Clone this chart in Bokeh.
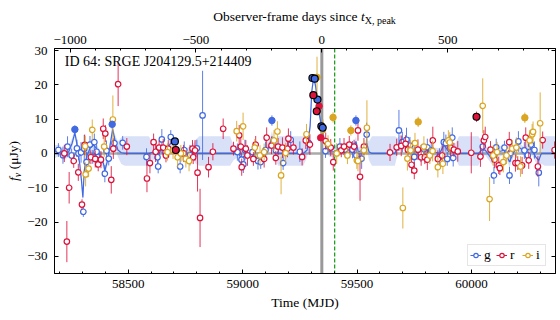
from bokeh.plotting import figure
from bokeh.layouts import column, row
from bokeh.models import (Range1d, LinearAxis, SingleIntervalTicker, FixedTicker, ColumnDataSource,
                          Label, Legend, LegendItem, Span, CustomJSTickFormatter, Div)
from bokeh.embed import file_html
from bokeh.resources import INLINE

# ---------------- data ----------------
T_PEAK = 59346.0        # MJD of X-ray peak (top axis zero, grey line)
T_MARK = 59402.0        # green dashed line
DAY_SCALE = 1.10        # MJD per top-axis day
X_RANGE = (58178, 60367)
Y_RANGE = (-35.0, 30.6)
Y_TICKS = [-30, -20, -10, 0, 10, 20, 30]
TITLE = "ID 64: SRGE J204129.5+214409"
X_LABEL = "Time (MJD)"
TOP_LABEL = ("Observer-frame days since ", "t", "X, peak")
Y_LABEL = ("f", "\u03bd", " (\u03bcJy)")

# (MJD, flux, err, kind)  kind: 0 open, 1 filled, 2 filled with black edge
g_points = [
    (58195, 1.0, 2.0, 0), (58215, -0.5, 2.5, 0), (58235, 2.0, 3.0, 0), (58253, -0.6, 2.0, 0),
    (58267, 7.0, 1.2, 1), (58276, 1.5, 2.5, 0), (58283, 0.0, 2.0, 0), (58294, 0.3, 3.0, 0),
    (58304, -17.0, 1.5, 0), (58308, 1.4, 4.0, 0), (58318, -2.5, 3.0, 0), (58333, 2.6, 2.5, 0),
    (58345, -1.0, 2.0, 0), (58352, 3.3, 2.5, 0), (58362, 0.5, 3.0, 0), (58375, -2.0, 2.0, 0),
    (58398, -5.9, 2.5, 0), (58405, 0.8, 3.0, 0), (58415, -1.5, 2.0, 0), (58430, 8.5, 1.5, 1),
    (58440, 3.0, 2.0, 0), (58476, 3.1, 2.0, 0), (58580, -1.0, 2.5, 0), (58628, -1.1, 2.5, 0),
    (58631, -3.8, 2.0, 0), (58647, 4.1, 3.0, 0), (58660, 0.5, 2.0, 0), (58686, 4.8, 2.0, 0),
    (58704, 3.5, 1.0, 2), (58727, -3.8, 2.0, 0), (58745, 1.0, 2.5, 0), (58770, -0.5, 3.0, 0),
    (58800, 1.5, 2.5, 0), (58825, 11.1, 13.0, 0), (58977, 0.4, 2.5, 0), (58995, -1.8, 2.0, 0),
    (59003, -3.2, 2.5, 0), (59010, 1.0, 3.0, 0), (59043, 0.4, 2.0, 0), (59067, -2.2, 2.5, 0),
    (59079, -2.5, 2.0, 0), (59100, 1.0, 2.5, 0), (59128, 9.6, 1.5, 1), (59145, 0.9, 2.5, 0),
    (59177, -2.8, 2.0, 0), (59210, 4.0, 2.5, 0), (59250, 0.5, 3.0, 0), (59290, 3.0, 3.0, 0),
    (59305, 22.0, 1.0, 2), (59315, 21.8, 1.0, 2), (59327, 15.7, 1.0, 2), (59344, 7.9, 1.0, 2),
    (59350, 7.5, 1.0, 2), (59362, 0.7, 2.0, 0), (59425, 2.0, 2.5, 0), (59447, 1.1, 2.0, 0),
    (59480, 1.1, 2.5, 0), (59495, 9.6, 1.5, 1), (59497, -0.6, 2.5, 0), (59520, -1.5, 3.0, 0),
    (59542, 5.5, 3.5, 0), (59683, 6.7, 6.0, 0), (59698, 3.3, 3.0, 0), (59716, 4.0, 3.5, 0),
    (59731, 2.3, 2.5, 0), (59750, -1.0, 3.0, 0), (59779, 0.0, 2.5, 0), (59807, 1.8, 2.5, 0),
    (59824, 0.9, 2.0, 0), (59860, -1.0, 2.5, 0), (59879, 3.3, 3.0, 0), (59888, 3.0, 2.5, 0),
    (59894, -1.6, 2.0, 0), (59916, 4.6, 3.0, 0), (59920, -1.3, 2.5, 0), (60049, 2.0, 3.0, 0),
    (60098, -6.4, 2.5, 0), (60108, 1.8, 2.5, 0), (60144, 1.7, 2.0, 0), (60166, -6.4, 2.5, 0),
    (60170, 0.1, 2.5, 0), (60205, 3.5, 3.0, 0), (60231, 0.9, 2.5, 0), (60246, -0.6, 2.0, 0),
    (60260, 2.6, 2.5, 0), (60275, 1.0, 2.5, 0), (60294, -5.6, 4.0, 0),
]

r_points = [
    (58221, 0.0, 2.5, 0), (58232, -25.7, 6.0, 0), (58242, -10.0, 4.6, 0), (58262, -2.2, 2.0, 0),
    (58282, -5.5, 2.5, 0), (58298, -14.9, 1.5, 0), (58310, 2.5, 3.0, 0), (58337, -1.1, 2.0, 0),
    (58356, -1.6, 2.5, 0), (58369, -3.2, 2.0, 0), (58381, -1.8, 2.5, 0), (58391, 7.2, 3.0, 0),
    (58400, 5.8, 2.5, 0), (58426, -7.7, 4.0, 0), (58435, 1.4, 3.0, 0), (58456, 20.2, 6.4, 0),
    (58494, 2.0, 2.5, 0), (58582, -7.3, 4.0, 0), (58595, -2.8, 3.0, 0), (58611, 3.3, 2.5, 0),
    (58620, 0.5, 3.0, 0), (58635, 1.7, 2.0, 0), (58653, 1.7, 2.5, 0), (58665, -0.6, 2.0, 0),
    (58675, 1.4, 2.5, 0), (58708, 1.0, 1.0, 2), (58742, 0.0, 2.5, 0), (58781, 1.4, 2.5, 0),
    (58784, -1.1, 2.0, 0), (58792, 0.9, 3.0, 0), (58803, -5.6, 5.5, 0), (58814, -18.8, 8.5, 0),
    (58851, -4.0, 3.0, 0), (58870, 0.5, 2.5, 0), (58915, 7.2, 3.0, 0), (58960, 1.4, 2.0, 0),
    (58985, 5.3, 3.0, 0), (58992, 2.0, 2.5, 0), (58996, -4.0, 2.5, 0), (59014, 1.4, 2.5, 0),
    (59021, -0.6, 3.0, 0), (59047, -1.6, 2.0, 0), (59057, 2.6, 2.5, 0), (59094, -1.6, 2.5, 0),
    (59105, 4.6, 3.0, 0), (59126, 2.3, 2.5, 0), (59145, -1.3, 2.0, 0), (59155, 2.0, 2.5, 0),
    (59174, 1.7, 3.0, 0), (59196, 1.4, 2.5, 0), (59200, 4.3, 3.0, 0), (59222, 1.7, 2.0, 0),
    (59260, -1.0, 2.5, 0), (59276, 3.8, 2.5, 0), (59294, 2.6, 3.0, 0), (59309, 17.0, 1.0, 2),
    (59324, 12.3, 1.0, 2), (59334, 13.8, 1.0, 1), (59341, 4.6, 1.0, 1), (59363, 3.6, 2.5, 0),
    (59385, 1.7, 2.5, 0), (59396, -2.5, 2.5, 0), (59431, 0.9, 2.0, 0), (59443, 2.0, 2.5, 0),
    (59466, 2.6, 2.5, 0), (59487, 2.0, 2.0, 0), (59504, 6.7, 3.0, 0), (59513, -6.8, 7.0, 0),
    (59530, 2.0, 2.5, 0), (59644, 0.3, 2.5, 0), (59673, 1.8, 2.5, 0), (59693, 2.2, 3.0, 0),
    (59712, 2.8, 2.5, 0), (59722, 1.1, 2.0, 0), (59738, -3.3, 2.5, 0), (59750, -5.0, 2.5, 0),
    (59766, 1.1, 3.0, 0), (59780, -1.1, 2.5, 0), (59796, -1.1, 2.0, 0), (59807, -1.8, 3.0, 0),
    (59831, 3.8, 4.0, 0), (59853, -1.6, 2.5, 0), (59872, -0.6, 3.0, 0), (59908, 1.7, 2.5, 0),
    (59923, 1.1, 2.0, 0), (59940, 0.6, 3.0, 0), (59999, 0.2, 6.0, 0), (60022, 10.7, 1.5, 2),
    (60039, -0.9, 3.0, 0), (60054, 3.8, 3.0, 0), (60060, 4.8, 3.0, 0), (60083, 1.1, 2.5, 0),
    (60101, -1.8, 2.5, 0), (60119, -3.5, 2.5, 0), (60124, -4.3, 2.0, 0), (60165, 3.3, 3.0, 0),
    (60192, -2.8, 2.5, 0), (60202, -2.8, 2.0, 0), (60221, -3.5, 2.5, 0), (60237, 4.6, 3.0, 0),
    (60250, -2.0, 2.5, 0), (60290, -3.8, 3.0, 0), (60311, 3.9, 2.5, 0), (60363, 1.0, 2.5, 0),
]

i_points = [
    (58312, 2.1, 3.0, 0), (58314, -6.1, 3.5, 0), (58327, -4.4, 2.5, 0), (58343, 6.9, 3.0, 0),
    (58395, 2.0, 3.0, 0), (58433, 9.9, 7.0, 0), (58672, 0.4, 2.5, 0), (58696, 0.9, 2.5, 0),
    (58716, -1.1, 3.0, 0), (58730, 0.0, 2.5, 0), (58752, -1.6, 2.5, 0), (58766, -2.2, 3.0, 0),
    (58974, 6.5, 3.0, 0), (59002, 7.9, 4.0, 0), (59053, 1.7, 2.5, 0), (59076, -0.6, 3.0, 0),
    (59094, 0.4, 2.5, 0), (59137, 3.8, 3.0, 0), (59152, 6.4, 3.0, 0), (59168, -6.4, 5.5, 0),
    (59188, 0.1, 3.0, 0), (59279, 5.6, 3.0, 0), (59325, 22.2, 6.0, 1), (59351, 6.9, 3.0, 0),
    (59373, 2.8, 2.5, 0), (59395, 10.5, 1.5, 1), (59411, 0.0, 3.0, 0), (59458, -0.6, 2.5, 0),
    (59473, 6.7, 1.5, 1), (59499, -2.0, 2.5, 0), (59504, -2.2, 3.0, 0), (59530, 0.9, 3.0, 0),
    (59543, 7.5, 8.0, 0), (59700, -15.9, 6.0, 0), (59720, -1.5, 3.5, 0), (59734, 0.9, 3.0, 0),
    (59753, 3.0, 3.0, 0), (59767, 9.2, 1.5, 1), (59792, 2.0, 3.0, 0), (59818, -0.6, 2.5, 0),
    (59830, 0.7, 3.0, 0), (59853, -4.0, 3.0, 0), (59875, -3.0, 3.0, 0), (59899, 3.8, 3.0, 0),
    (59905, 3.2, 3.0, 0), (60049, 13.9, 8.0, 0), (60079, -13.3, 6.4, 0), (60095, -0.6, 3.0, 0),
    (60112, 0.4, 3.0, 0), (60139, -2.5, 3.0, 0), (60153, -0.6, 2.5, 0), (60178, 1.4, 2.5, 0),
    (60196, 1.7, 3.0, 0), (60214, -3.8, 3.0, 0), (60233, 10.4, 1.5, 1), (60254, 3.8, 3.0, 0),
    (60265, 5.6, 3.0, 0), (60269, 6.3, 3.0, 0), (60300, 8.8, 9.0, 0),
]

# Gaussian-process model of the g band: (MJD, mean, upper width, lower width)
gp_knots = [
    (58178, 0.5, 2.0, 2.0), (58200, 1.0, 1.5, 1.5), (58220, -0.5, 1.5, 1.5), (58240, 0.5, 1.5, 1.5),
    (58255, 3.0, 1.5, 1.5), (58267, 6.0, 1.2, 1.2), (58278, 2.0, 1.5, 1.5), (58288, -3.0, 1.5, 1.5),
    (58296, -8.0, 2.0, 2.0), (58302, -12.8, 2.0, 2.0), (58308, -5.0, 1.5, 1.5), (58318, -1.0, 1.5, 1.5),
    (58333, 1.5, 1.2, 1.2), (58350, 2.5, 1.2, 1.2), (58365, 1.0, 1.2, 1.2), (58380, -1.0, 1.5, 1.5),
    (58392, -3.0, 1.5, 1.5), (58398, -5.0, 1.5, 1.5), (58410, -2.0, 1.5, 1.5), (58420, 2.0, 1.5, 1.5),
    (58432, 7.0, 1.3, 1.3), (58442, 4.0, 1.5, 1.5), (58455, 1.0, 2.5, 2.0), (58470, 0.2, 4.5, 3.3),
    (58485, 0.0, 5.0, 3.6), (58590, 0.0, 5.0, 3.6), (58605, 0.3, 3.0, 2.5), (58620, 0.0, 1.5, 1.3),
    (58630, -0.5, 1.3, 1.3), (58648, 1.5, 1.3, 1.3), (58665, 1.0, 1.3, 1.3), (58686, 3.0, 1.2, 1.2),
    (58704, 3.0, 1.0, 1.0), (58720, 0.0, 1.3, 1.3), (58735, -1.0, 1.3, 1.3), (58755, 0.0, 1.5, 1.5),
    (58780, 0.5, 2.0, 2.0), (58795, 0.0, 4.0, 3.0), (58810, 0.0, 5.0, 3.6), (58945, 0.0, 5.0, 3.6),
    (58960, 0.0, 2.5, 2.0), (58980, 0.3, 1.3, 1.3), (58995, -1.5, 1.3, 1.3), (59020, 0.0, 1.3, 1.3),
    (59045, 0.0, 1.3, 1.3), (59070, -2.0, 1.3, 1.3), (59085, -1.0, 1.5, 1.5), (59105, 0.5, 1.5, 1.5),
    (59120, 3.0, 1.5, 1.5), (59128, 5.0, 1.5, 1.5), (59140, 1.0, 2.5, 2.0), (59155, 0.0, 5.0, 3.6),
    (59265, 0.0, 5.0, 3.6), (59282, 1.0, 2.5, 2.0), (59295, 8.0, 2.0, 2.0), (59302, 18.0, 1.5, 1.5),
    (59310, 22.0, 1.2, 1.2), (59318, 20.0, 1.2, 1.2), (59327, 15.5, 1.2, 1.2), (59336, 11.0, 1.3, 1.3),
    (59345, 8.0, 1.2, 1.2), (59355, 4.5, 1.3, 1.3), (59365, 1.5, 1.3, 1.3), (59380, 0.5, 1.5, 1.5),
    (59400, 0.5, 1.5, 1.5), (59425, 1.5, 1.3, 1.3), (59447, 1.0, 1.3, 1.3), (59480, 1.0, 1.3, 1.3),
    (59495, 3.5, 1.3, 1.3), (59505, 0.5, 1.3, 1.3), (59530, 1.0, 1.5, 1.5), (59542, 3.0, 1.5, 1.5),
    (59552, 0.5, 3.0, 2.5), (59565, 0.0, 5.0, 3.6), (59665, 0.0, 5.0, 3.6), (59678, 2.0, 2.5, 2.0),
    (59690, 4.0, 1.5, 1.5), (59705, 3.0, 1.5, 1.5), (59720, 2.5, 1.3, 1.3), (59740, 0.5, 1.3, 1.3),
    (59760, 0.5, 1.3, 1.3), (59780, 0.0, 1.3, 1.3), (59810, 1.0, 1.3, 1.3), (59830, 0.5, 1.3, 1.3),
    (59860, 0.0, 1.5, 1.5), (59880, 2.5, 1.3, 1.3), (59900, 0.5, 1.3, 1.3), (59916, 1.5, 1.5, 1.5),
    (59930, 0.5, 2.5, 2.0), (59945, 0.0, 5.0, 3.6), (60030, 0.0, 5.0, 3.6), (60045, 1.0, 2.5, 2.0),
    (60060, 1.0, 1.5, 1.5), (60098, -2.5, 1.5, 1.5), (60120, 0.5, 1.5, 1.5), (60144, 1.0, 1.3, 1.3),
    (60166, -2.5, 1.5, 1.5), (60185, 0.5, 1.3, 1.3), (60205, 2.0, 1.3, 1.3), (60231, 0.5, 1.3, 1.3),
    (60260, 1.5, 1.3, 1.3), (60280, -1.0, 1.5, 1.5), (60294, -2.0, 2.0, 2.0), (60305, 0.0, 4.0, 3.0),
    (60320, 0.0, 5.0, 3.6), (60367, 0.0, 5.0, 3.6),
]

BANDS = [("g", g_points, "#4169E1"), ("r", r_points, "#DC143C"), ("i", i_points, "#DAA520")]
GP_COLOR = "#4169E1"
FONT = "Liberation Serif"

# ---------------- layout sizes ----------------
FW, FH = 501, 225
TOP_H, LEFT_W = 27, 23          # space for the two outer axis titles
BL, BR, BT, BB = 31, 5, 21, 45  # figure borders
FIG_H = BT + FH + BB

p = figure(frame_width=FW, frame_height=FH,
           x_range=Range1d(*X_RANGE), y_range=Range1d(*Y_RANGE),
           output_backend="svg", toolbar_location=None,
           min_border_left=BL, min_border_right=BR, min_border_top=BT, min_border_bottom=BB,
           background_fill_color="white", border_fill_color="white", margin=0)
p.grid.visible = False
p.outline_line_color = "black"
p.outline_line_width = 1

p.extra_x_ranges = {"days": Range1d((X_RANGE[0] - T_PEAK) / DAY_SCALE, (X_RANGE[1] - T_PEAK) / DAY_SCALE)}

bottom = p.below[0]
left = p.left[0]
bottom.ticker = SingleIntervalTicker(interval=500, num_minor_ticks=5)
left.ticker = FixedTicker(ticks=Y_TICKS, minor_ticks=[])

top = LinearAxis(x_range_name="days", ticker=SingleIntervalTicker(interval=500, num_minor_ticks=5))
p.add_layout(top, "above")
right = LinearAxis(ticker=FixedTicker(ticks=Y_TICKS, minor_ticks=[]),
                   formatter=CustomJSTickFormatter(code="return ''"))
p.add_layout(right, "right")

for ax in (bottom, left, top, right):
    ax.axis_line_color = "black"
    ax.major_tick_in = 4
    ax.major_tick_out = 0
    ax.minor_tick_in = 2
    ax.minor_tick_out = 0
    ax.major_tick_line_color = "black"
    ax.minor_tick_line_color = "black"
    ax.major_label_text_font = FONT
    ax.major_label_text_font_size = "13px"
    ax.major_label_text_color = "black"
    ax.axis_label_text_font = FONT
    ax.axis_label_text_font_size = "13.5px"
    ax.axis_label_text_font_style = "normal"
    ax.axis_label_text_color = "black"

bottom.major_label_standoff = 6
bottom.axis_label = X_LABEL
bottom.axis_label_standoff = 4
left.major_label_standoff = 7
top.major_label_standoff = 5
right.major_label_standoff = 0

# reference lines
p.add_layout(Span(location=0, dimension="width", line_color="#aaaaaa", line_width=2.5, level="underlay"))
p.add_layout(Span(location=T_PEAK, dimension="height", line_color="#999999", line_width=3, level="underlay"))
p.add_layout(Span(location=T_MARK, dimension="height", line_color="#22a022", line_width=1.3,
                  line_dash="4 2", level="underlay"))

# GP band and mean
gp_x = [k[0] for k in gp_knots]
gp_m = [k[1] for k in gp_knots]
gp_hi = [k[1] + k[2] for k in gp_knots]
gp_lo = [k[1] - k[3] for k in gp_knots]
p.varea(x=gp_x, y1=gp_lo, y2=gp_hi, fill_color=GP_COLOR, fill_alpha=0.2)
p.line(gp_x, gp_m, line_color=GP_COLOR, line_width=1.2)


def src(points, kinds):
    sel = [q for q in points if q[3] in kinds]
    return ColumnDataSource(dict(x=[q[0] for q in sel], y=[q[1] for q in sel],
                                 lo=[q[1] - q[2] for q in sel], hi=[q[1] + q[2] for q in sel]))


for name, pts, col in BANDS:
    p.segment(x0="x", y0="lo", x1="x", y1="hi", source=src(pts, (0, 1, 2)),
              line_color=col, line_width=1.0, line_alpha=0.85)
    p.scatter("x", "y", source=src(pts, (0,)), size=5.5, fill_color="white", line_color=col, line_width=1.2)

for name, pts, col in BANDS:
    p.scatter("x", "y", source=src(pts, (1,)), size=6.5, fill_color=col, line_color=col, line_width=1.0)
for name, pts, col in BANDS:
    p.scatter("x", "y", source=src(pts, (2,)), size=7, fill_color=col, line_color="black", line_width=1.2)

# legend (vertical error bar + open circle)
items = []
for name, pts, col in BANDS:
    r_bar = p.vspan(x=[float("nan")], line_color=col, line_width=1.0)
    r_dot = p.scatter([float("nan")], [float("nan")], size=5.5, fill_color="white", line_color=col, line_width=1.2)
    items.append(LegendItem(label=name, renderers=[r_bar, r_dot]))
leg = Legend(items=items, location=(413, 7), orientation="horizontal",
             label_text_font=FONT, label_text_font_size="13.5px", label_text_color="black",
             glyph_width=11, glyph_height=12, label_standoff=3, label_width=7, spacing=5,
             padding=2, margin=0, border_line_color="#cccccc", border_line_width=1,
             background_fill_alpha=0.85)
p.add_layout(leg, "center")

p.add_layout(Label(x=10.3, y=FH - 20.5, x_units="screen", y_units="screen", text=TITLE,
                   text_font=FONT, text_font_size="14px", text_color="black"))

# ---------------- outer axis titles (HTML, so that sub/italic parts stay real text) ----------------
font_css = "font-family:'Liberation Serif',serif;font-size:13.5px;color:#000;white-space:nowrap;"
sub_css = "font-size:10px;line-height:0;vertical-align:-3px;"
top_html = (f'<div style="margin-left:{LEFT_W + BL}px;width:{FW}px;text-align:center;padding-top:9px;'
            f'line-height:16px;{font_css}">{TOP_LABEL[0]}<i>{TOP_LABEL[1]}</i>'
            f'<span style="{sub_css}">{TOP_LABEL[2]}</span></div>')
left_html = (f'<div style="box-sizing:border-box;width:{LEFT_W}px;padding-left:5px;height:{2 * BT + FH}px;'
             f'display:flex;align-items:center;justify-content:center;">'
             f'<span style="display:inline-block;transform:rotate(-90deg);line-height:16px;{font_css}">'
             f'<i>{Y_LABEL[0]}</i><span style="{sub_css}"><i>{Y_LABEL[1]}</i></span>{Y_LABEL[2]}</span></div>')

top_div = Div(text=top_html, width=LEFT_W + BL + FW + BR, height=TOP_H, margin=0)
left_div = Div(text=left_html, width=LEFT_W, height=FIG_H, margin=0)

layout = column(top_div, row(left_div, p, spacing=0, margin=0), spacing=0, margin=0)

open("out.html", "w").write(file_html(layout, INLINE))
